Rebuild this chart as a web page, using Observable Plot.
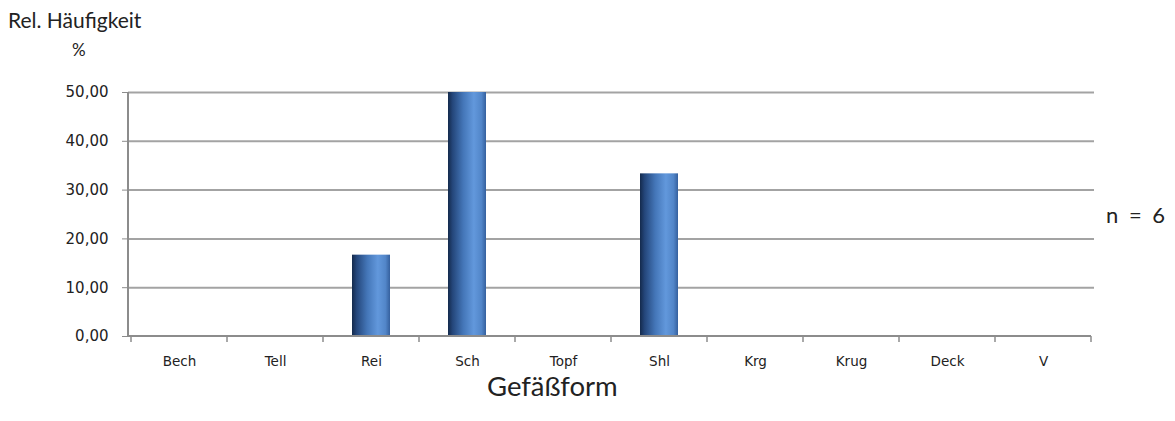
<!DOCTYPE html>
<html>
<head>
<meta charset="utf-8">
<script src="https://cdn.jsdelivr.net/npm/d3@7"></script>
<script src="https://cdn.jsdelivr.net/npm/@observablehq/plot@0.6"></script>
<style>
  html, body { margin: 0; padding: 0; background: #fff; }
  #wrap { position: relative; width: 1175px; height: 421px; overflow: hidden; }
  #wrap svg { position: absolute; left: 0; top: 0; }
  .lbl { position: absolute; white-space: nowrap; color: #222; font-family: Lato, "Open Sans", sans-serif; line-height: 1; }
</style>
</head>
<body>
<div id="wrap">
  <div class="lbl" id="ytitle" style="left:8px; top:9px; font-size:21px;">Rel. Häufigkeit</div>
  <div class="lbl" id="yunit" style="left:72px; top:41px; font-size:17px;">%</div>
  <div class="lbl" id="xtitle" style="left:487px; top:372px; font-size:27.5px;">Gefäßform</div>
  <div class="lbl" id="nlabel" style="left:1106px; top:204px; font-size:22px; word-spacing:5px;">n = 6</div>
</div>
<script>
const categories = ["Bech", "Tell", "Rei", "Sch", "Topf", "Shl", "Krg", "Krug", "Deck", "V"];
const values = [0, 0, 16.67, 50, 0, 33.33, 0, 0, 0, 0];
const yTicks = [0, 10, 20, 30, 40, 50];
const gridValues = [10, 20, 30, 40, 50];

const data = categories.map((c, i) => ({cat: c, value: values[i]}));

const gradientDefs = () => {
  const defs = d3.create("svg:defs");
  const g = defs.append("linearGradient").attr("id", "barGrad")
    .attr("x1", "0%").attr("x2", "100%").attr("y1", "0%").attr("y2", "0%");
  [["0%", "#142a4c"], ["12%", "#24467a"], ["40%", "#4476b8"], ["68%", "#6298dc"], ["88%", "#5286c9"], ["100%", "#35609e"]]
    .forEach(([o, c]) => g.append("stop").attr("offset", o).attr("stop-color", c));
  return defs.node();
};

const axisLines = (index, scales, values, dims) => {
  const {x, y} = scales;
  const g = d3.create("svg:g").attr("stroke", "#8c8c8c").attr("fill", "none");
  const step = x(categories[1]) - x(categories[0]);
  const bounds = categories.map(c => x(c)).concat([x(categories[categories.length - 1]) + step]);
  const y0 = y(0);
  g.append("line").attr("stroke-width", 2)
    .attr("x1", dims.marginLeft).attr("x2", dims.marginLeft)
    .attr("y1", y(50)).attr("y2", y0);
  g.append("line").attr("stroke-width", 2)
    .attr("x1", dims.marginLeft).attr("x2", bounds[bounds.length - 1])
    .attr("y1", y0).attr("y2", y0);
  bounds.forEach(b => {
    g.append("line").attr("stroke-width", 1.5).attr("x1", b).attr("x2", b).attr("y1", y0).attr("y2", y0 + 6);
  });
  return g.node();
};

const chart = Plot.plot({
  width: 1175,
  height: 421,
  marginLeft: 128,
  marginRight: 81,
  marginTop: 92,
  marginBottom: 85,
  style: {background: "transparent", fontFamily: "'DejaVu Sans', sans-serif", fontSize: "14px", color: "#222"},
  x: {domain: categories, padding: 0, label: null},
  y: {domain: [0, 50], label: null},
  marks: [
    gradientDefs,
    Plot.ruleY(gridValues, {stroke: "#a3a3a3", strokeWidth: 2}),
    Plot.axisY({ticks: yTicks, tickSize: 6, tickPadding: 14, stroke: "#8c8c8c", tickFormat: d => d.toFixed(2).replace(".", ","), fontSize: 15, fill: "#222", label: null}),
    Plot.axisX({tickSize: 0, tickPadding: 20, fontSize: 13.5, fill: "#222", label: null}),
    Plot.barY(data, {x: "cat", y: "value", fill: "url(#barGrad)", insetLeft: 29, insetRight: 29}),
    axisLines
  ]
});
document.getElementById("wrap").prepend(chart);
</script>
</body>
</html>
